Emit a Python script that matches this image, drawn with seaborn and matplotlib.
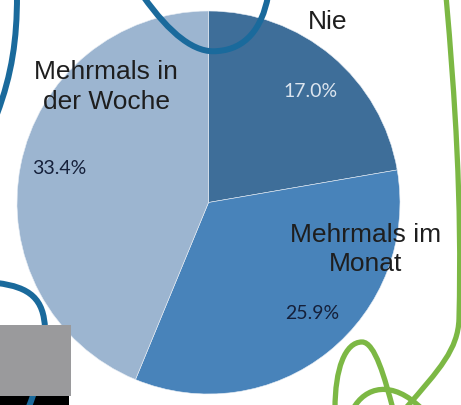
import seaborn as sns
import matplotlib.pyplot as plt
from matplotlib.path import Path
from matplotlib.patches import PathPatch, Rectangle

# Pie data (values as printed on the slices)
categories = ['Nie', 'Mehrmals im Monat', 'Mehrmals in der Woche']
label_texts = ['Nie', 'Mehrmals im\nMonat', 'Mehrmals in\nder Woche']
values = [17.0, 25.9, 33.4]
slice_colors = ['#3e6e99', '#4883ba', '#9cb5d0']
pct_colors = ['#dce5ef', '#15203a', '#15203a']

# label positions in pie coordinates (radius = 1)
label_pos = [(0.62, 0.95), (0.82, -0.24), (-0.535, 0.61)]
pct_pos = [(0.535, 0.587), (0.543, -0.577), (-0.781, 0.185)]

sns.set_theme(style='white')
plt.rcParams['font.family'] = ['Liberation Sans', 'DejaVu Sans']

W, H = 461, 406
fig = plt.figure(figsize=(W / 100, H / 100), dpi=100)

# pie axes: centre (208.5, 203.5) px, radius 191.5 px
cx, cy, r = 208.5, 203.5, 191.5
ax = fig.add_axes([(cx - r) / W, (H - cy - r) / H, 2 * r / W, 2 * r / H])
ax.pie(values, colors=slice_colors, startangle=90, counterclock=False,
       radius=1, wedgeprops=dict(edgecolor='#e8eef5', linewidth=0.4))
ax.set_xlim(-1, 1)
ax.set_ylim(-1, 1)
ax.set_aspect('equal')
ax.axis('off')

for txt, (x, y) in zip(label_texts, label_pos):
    ax.text(x, y, txt, ha='center', va='center', fontsize=19,
            color='#1e1e1e', linespacing=1.3)

for v, c, (x, y) in zip(values, pct_colors, pct_pos):
    ax.text(x, y, f'{v:.1f}%', ha='center', va='center', fontsize=14,
            color=c, family=['Lato', 'DejaVu Sans'])

# hand-drawn decorations on top, in pixel coordinates
deco = fig.add_axes([0, 0, 1, 1], zorder=3)
deco.set_xlim(0, W)
deco.set_ylim(H, 0)
deco.axis('off')
deco.patch.set_alpha(0)

C4 = [Path.MOVETO, Path.CURVE4, Path.CURVE4, Path.CURVE4]
C44 = C4 + [Path.CURVE4] * 3
blue, green = '#1a6a9c', '#7cb844'

strokes = [
    ([(17, -3), (17, 40), (12, 75), (-3, 115)], C4, blue, 4.3),
    ([(143, -3), (170, 35), (195, 55), (218, 52),
      (245, 50), (262, 30), (268, -3)], C44, blue, 4.3),
    ([(446, -3), (455, 100), (462, 200), (459, 320),
      (458, 350), (440, 370), (405, 410)], C44, green, 3.8),
    ([(335, 410), (335, 370), (345, 343), (362, 343),
      (375, 343), (385, 380), (393, 410)], C44, green, 3.8),
    ([(353, 410), (365, 388), (392, 380), (422, 410)], C4, green, 3.8),
]

deco.add_patch(Rectangle((0, 397), 69, 10, color='black', lw=0))
deco.add_patch(PathPatch(Path([(-3, 284), (30, 288), (44, 300), (45, 330),
                               (46, 360), (36, 390), (28, 410)], C44),
                         fill=False, edgecolor=blue, lw=4.3, capstyle='round'))
deco.add_patch(Rectangle((0, 326), 71, 71, color='#9a9a9c', lw=0))

for pts, codes, col, lw in strokes:
    deco.add_patch(PathPatch(Path(pts, codes), fill=False, edgecolor=col,
                             lw=lw, capstyle='round'))

fig.savefig('out.png', dpi=100)
